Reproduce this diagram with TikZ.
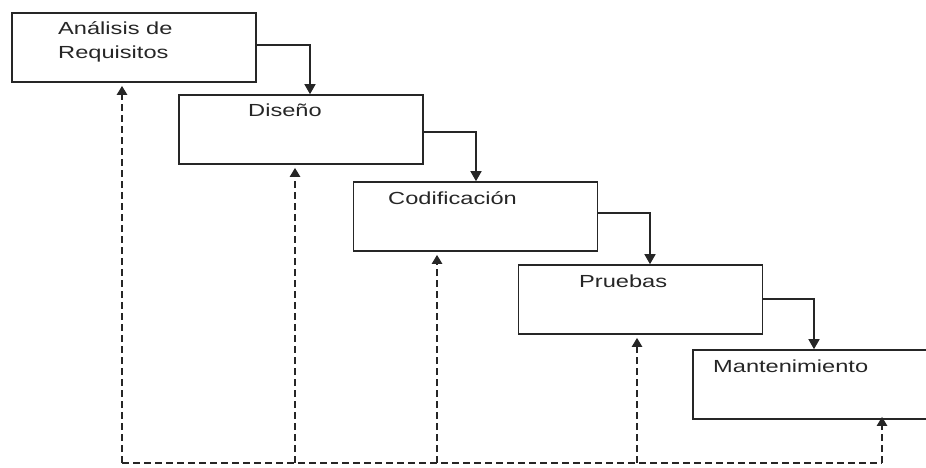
\documentclass[tikz,border=0pt]{standalone}
\usepackage{fontspec}
\setmainfont{Liberation Sans}[FakeStretch=1.35]
\usetikzlibrary{arrows.meta,calc}
\definecolor{ink}{HTML}{262626}
\begin{document}
\begin{tikzpicture}[x=1pt,y=-1pt,
  phase/.style={draw=ink,line width=1.6pt,minimum width=244pt,minimum height=69pt,inner sep=0pt},
  label/.style={anchor=base west,inner sep=0pt,text=ink,font=\fontsize{17.5}{24}\selectfont,align=left},
  flow/.style={draw=ink,line width=1.5pt,-{Triangle[length=10pt,width=11pt]}},
  backline/.style={draw=ink,line width=2.2pt,dash pattern=on 7pt off 4pt},
  feedback/.style={backline,-{Triangle[length=9pt,width=10pt]},shorten >=3pt}]
\useasboundingbox (0,0) rectangle (926,468);
\clip (0,0) rectangle (926,468);

% stages of the cascade
\node[phase] (b1) at (134,47.5) {};
\node[phase] (b2) at (301,129.5) {};
\node[phase] (b3) at (475.5,216.5) {};
\node[phase] (b4) at (640.5,299.5) {};
\node[phase] (b5) at (815,384.5) {};

% stage titles
\node[label] (t1) at (58,59) {Análisis de\\Requisitos};
\node[label] (t2) at (248,117) {Diseño};
\node[label] (t3) at (388,204) {Codificación};
\node[label] (t4) at (579,287) {Pruebas};
\node[label] (t5) at (713,372) {Mantenimiento};

% forward flow between stages
\draw[flow] (b1.east |- 0,45) -| ([xshift=9pt]b2.north);
\draw[flow] (b2.east |- 0,132) -| ([xshift=0.5pt]b3.north);
\draw[flow] (b3.east |- 0,213) -| ([xshift=9.5pt]b4.north);
\draw[flow] (b4.east |- 0,299) -| ([xshift=-1pt]b5.north);

% feedback returns along the bottom
\coordinate (f1) at (122,463);
\coordinate (f2) at (295,463);
\coordinate (f3) at (437,463);
\coordinate (f4) at (637,463);
\coordinate (f5) at (882,463);
\draw[backline] (f1) -- (f5);
\draw[feedback] (f1) -- (f1 |- b1.south);
\draw[feedback] (f2) -- (f2 |- b2.south);
\draw[feedback] (f3) -- (f3 |- b3.south);
\draw[feedback] (f4) -- (f4 |- b4.south);
\draw[feedback] (f5) -- ([yshift=6pt]f5 |- b5.south);
\end{tikzpicture}
\end{document}
